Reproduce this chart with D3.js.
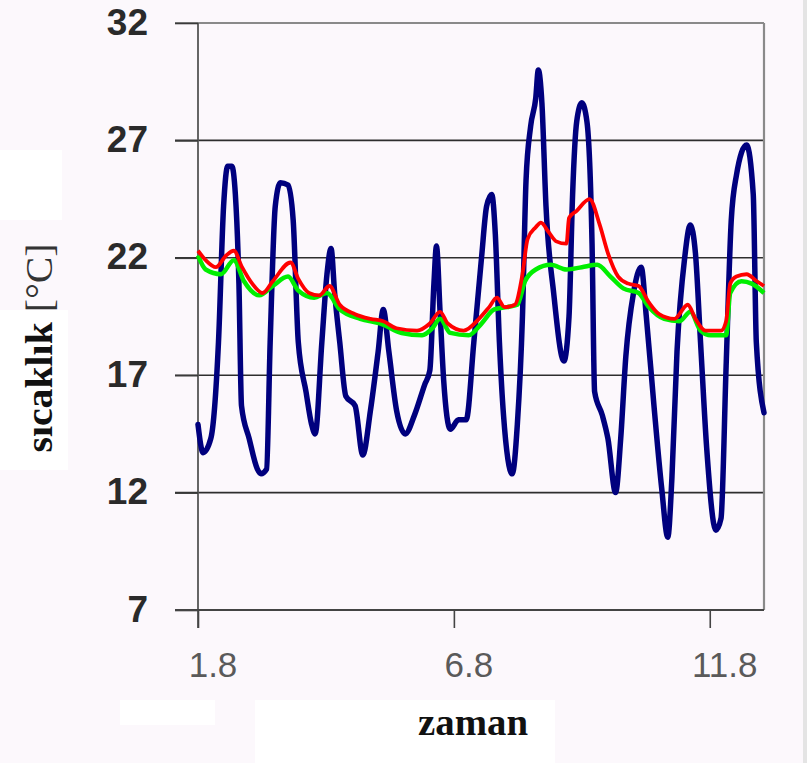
<!DOCTYPE html>
<html>
<head>
<meta charset="utf-8">
<script src="https://cdn.jsdelivr.net/npm/d3@7"></script>
<style>
  html, body { margin: 0; padding: 0; background: #fcf8fc; }
  svg { display: block; }
</style>
</head>
<body>
<svg id="chart" width="807" height="763"></svg>
<script>
// ---- data (day, °C) ----
const blueDays = [1.8,1.9,2.05,2.2,2.3,2.38,2.46,2.53,2.6,2.65,2.8,2.96,3.03,3.14,3.21,3.31,3.41,3.56,3.66,3.76,3.91,4.02,4.09,4.22,4.32,4.4,4.47,4.57,4.69,4.87,5.02,5.17,5.32,5.42,5.53,5.68,5.85,6.03,6.23,6.33,6.41,6.46,6.53,6.6,6.73,6.89,7.04,7.19,7.34,7.44,7.54,7.61,7.69,7.77,7.94,8.04,8.14,8.21,8.3,8.4,8.45,8.52,8.6,8.75,8.95,9.05,9.12,9.2,9.3,9.4,9.5,9.55,9.7,9.81,9.96,10.06,10.16,10.31,10.46,10.56,10.71,10.86,10.98,11.06,11.16,11.31,11.42,11.52,11.62,11.74,11.92,12.02,12.12,12.22,12.32,12.52,12.65,12.71,12.86];
const blueTemp = [14.9,13.7,14.3,18.4,24.2,25.9,25.9,24.7,20.9,15.7,14.3,13.0,12.8,13.0,18.4,24.2,25.2,25.1,23.6,18.4,16.3,14.9,14.5,18.4,21.3,22.4,20.5,18.4,16.1,15.7,13.6,15.5,18.0,19.8,18.0,15.5,14.5,15.3,16.6,17.2,20.9,22.5,19.7,16.8,14.7,15.1,15.1,18.4,22.0,24.2,24.7,23.0,18.4,15.3,12.8,14.9,19.5,25.3,27.6,28.8,30.0,28.6,24.2,20.5,17.6,19.5,24.7,27.8,28.6,27.8,22.6,16.3,15.3,14.3,12.0,14.3,17.8,20.5,21.6,19.5,15.7,12.2,10.1,12.6,18.0,22.0,23.4,22.2,18.4,13.9,10.4,10.9,17.4,23.6,25.5,26.8,24.7,18.4,15.4];

const redDays = [1.8,1.95,2.15,2.35,2.5,2.66,2.86,3.06,3.26,3.61,3.76,3.97,4.17,4.37,4.57,4.87,5.17,5.42,5.68,6.08,6.33,6.53,6.68,6.99,7.29,7.49,7.64,7.79,7.99,8.14,8.24,8.4,8.5,8.65,8.8,9.0,9.05,9.2,9.45,9.65,9.81,10.01,10.21,10.41,10.61,10.81,11.11,11.37,11.52,11.72,12.02,12.12,12.2,12.32,12.52,12.72,12.86];
const redTemp = [22.3,21.9,21.6,22.1,22.3,21.6,20.9,20.5,21.0,21.8,21.1,20.5,20.4,20.8,20.0,19.6,19.4,19.3,19.0,18.9,19.2,19.7,19.2,18.9,19.4,19.9,20.3,19.9,20.0,21.3,22.8,23.3,23.5,23.1,22.7,22.6,23.7,24.0,24.5,23.4,22.2,21.2,20.9,20.8,20.1,19.6,19.4,20.0,19.4,18.9,18.9,19.3,20.9,21.2,21.3,21.0,20.8];

const greenDays = [1.8,1.95,2.25,2.5,2.7,3.0,3.26,3.56,3.76,4.07,4.32,4.57,4.97,5.37,5.78,6.18,6.38,6.53,6.73,7.09,7.34,7.59,7.84,8.04,8.19,8.4,8.7,9.0,9.3,9.6,9.86,10.11,10.41,10.61,10.91,11.21,11.42,11.62,11.82,12.12,12.2,12.42,12.62,12.86];
const greenTemp = [22.1,21.5,21.3,21.9,21.0,20.4,20.8,21.2,20.6,20.3,20.5,19.8,19.4,19.2,18.8,18.7,19.0,19.4,18.8,18.7,19.2,19.8,19.9,20.0,21.0,21.5,21.7,21.5,21.6,21.7,21.2,20.7,20.5,19.9,19.4,19.3,19.7,18.9,18.7,18.7,20.5,21.0,20.9,20.5];

const yTicks = [7, 12, 17, 22, 27, 32];
const xTicks = [1.8, 6.8, 11.8];
const xTitle = "zaman";
const yTitleMain = "sıcaklık";
const yTitleUnit = "[°C]";

// ---- layout ----
const svg = d3.select("#chart");
const L = 198, R = 764, T = 23, B = 610;
const x = d3.scaleLinear().domain([1.8, 12.86]).range([L, R]);
const y = d3.scaleLinear().domain([7, 32]).range([B, T]);

// background artifacts (white patches like in the scanned picture)
svg.append("rect").attr("x", 0).attr("y", 0).attr("width", 807).attr("height", 763).attr("fill", "#fcf8fc");
svg.append("rect").attr("x", 0).attr("y", 310).attr("width", 68).attr("height", 160).attr("fill", "#ffffff");
svg.append("rect").attr("x", 0).attr("y", 150).attr("width", 62).attr("height", 70).attr("fill", "#ffffff");
svg.append("rect").attr("x", 255).attr("y", 700).attr("width", 300).attr("height", 63).attr("fill", "#ffffff");
svg.append("rect").attr("x", 120).attr("y", 700).attr("width", 95).attr("height", 25).attr("fill", "#ffffff");
svg.append("rect").attr("x", 803).attr("y", 0).attr("width", 4).attr("height", 763).attr("fill", "#e4e4e4");

// gridlines
svg.append("g").selectAll("line")
  .data(yTicks.filter(v => v > 7 && v < 32))
  .join("line")
  .attr("x1", L - 23).attr("x2", R)
  .attr("y1", d => y(d)).attr("y2", d => y(d))
  .attr("stroke", "#2e2e2e").attr("stroke-width", 1.6);

// top border (at 32) and right border
svg.append("line").attr("x1", L - 23).attr("x2", R).attr("y1", y(32)).attr("y2", y(32))
  .attr("stroke", "#8a8a8a").attr("stroke-width", 2.2);
svg.append("line").attr("x1", R).attr("x2", R).attr("y1", y(32)).attr("y2", y(7))
  .attr("stroke", "#8a8a8a").attr("stroke-width", 2.2);

// y axis
const yAxis = svg.append("g").attr("transform", `translate(${L},0)`)
  .call(d3.axisLeft(y).tickValues(yTicks).tickSize(23).tickPadding(27).tickFormat(d3.format("d")));
yAxis.select(".domain").attr("stroke", "#555").attr("stroke-width", 1.8).attr("d", `M0,${T}V${B + 18}`);
yAxis.selectAll(".tick line").attr("stroke", "#3a3a3a").attr("stroke-width", 1.6);
yAxis.selectAll(".tick text")
  .attr("font-family", "'Liberation Sans', Arial, sans-serif")
  .attr("font-size", 37).attr("font-weight", "bold").attr("fill", "#2a2a2a")
  .attr("dy", "0.3em");

// x axis
const xAxis = svg.append("g").attr("transform", `translate(0,${B})`)
  .call(d3.axisBottom(x).tickValues(xTicks).tickSize(18).tickFormat(d3.format(".1f")));
xAxis.select(".domain").attr("stroke", "#444").attr("stroke-width", 2).attr("d", `M${L - 23},0H${R}`);
xAxis.selectAll(".tick line").attr("stroke", "#444").attr("stroke-width", 1.6);
xAxis.selectAll(".tick text")
  .attr("font-family", "'Liberation Sans', Arial, sans-serif")
  .attr("font-size", 35).attr("fill", "#5a5a5a")
  .attr("x", 14.5).attr("y", 67).attr("dy", 0);

// lines
const mk = (days, temps) => days.map((d, i) => [d, temps[i]]);
const line = d3.line().x(d => x(d[0])).y(d => y(d[1])).curve(d3.curveMonotoneX);

svg.append("path").datum(mk(blueDays, blueTemp)).attr("d", line)
  .attr("fill", "none").attr("stroke", "#00007e").attr("stroke-width", 5.5)
  .attr("stroke-linejoin", "round").attr("stroke-linecap", "round");
svg.append("path").datum(mk(greenDays, greenTemp)).attr("d", line)
  .attr("fill", "none").attr("stroke", "#00ee00").attr("stroke-width", 4.5)
  .attr("stroke-linejoin", "round");
svg.append("path").datum(mk(redDays, redTemp)).attr("d", line)
  .attr("fill", "none").attr("stroke", "#ff0000").attr("stroke-width", 3.8)
  .attr("stroke-linejoin", "round");

// titles
svg.append("text").attr("x", 473).attr("y", 735).attr("text-anchor", "middle")
  .attr("font-family", "'Liberation Serif', 'Times New Roman', serif")
  .attr("font-size", 38).attr("font-weight", "bold").attr("fill", "#111")
  .attr("textLength", 110).attr("lengthAdjust", "spacingAndGlyphs")
  .text(xTitle);

const yt = svg.append("text").attr("transform", "translate(52,348) rotate(-90)")
  .attr("text-anchor", "middle")
  .attr("font-family", "'Liberation Serif', 'Times New Roman', serif")
  .attr("font-size", 38).attr("fill", "#111")
  .attr("textLength", 209).attr("lengthAdjust", "spacingAndGlyphs");
yt.append("tspan").attr("font-weight", "bold").text(yTitleMain + " ");
yt.append("tspan").attr("fill", "#333").text(yTitleUnit);
</script>
</body>
</html>
